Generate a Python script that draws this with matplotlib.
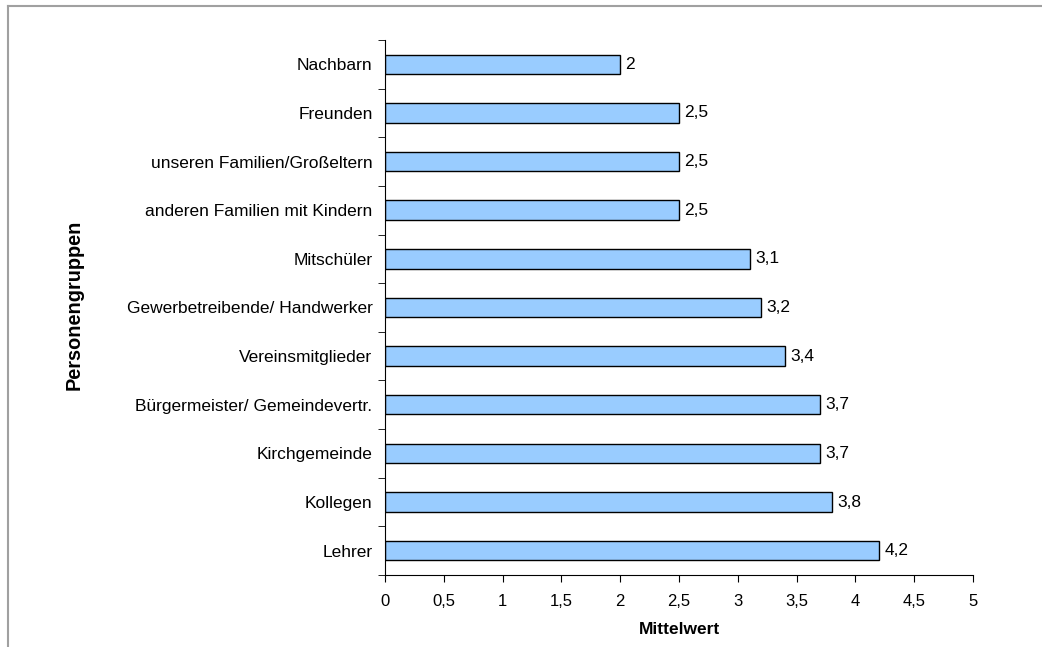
import matplotlib.pyplot as plt
from matplotlib.lines import Line2D

plt.rcParams['font.family'] = ['Liberation Sans', 'DejaVu Sans']

# --- Daten ---
gruppen = ["Nachbarn", "Freunden", "unseren Familien/Großeltern",
           "anderen Familien mit Kindern", "Mitschüler",
           "Gewerbetreibende/ Handwerker", "Vereinsmitglieder",
           "Bürgermeister/ Gemeindevertr.", "Kirchgemeinde", "Kollegen", "Lehrer"]
mittelwerte = [2.0, 2.5, 2.5, 2.5, 3.1, 3.2, 3.4, 3.7, 3.7, 3.8, 4.2]
x_ticks = [0, 0.5, 1, 1.5, 2, 2.5, 3, 3.5, 4, 4.5, 5]


def de(v):
    s = f"{v:g}"
    return s.replace(".", ",")


fig = plt.figure(figsize=(10.42, 6.47), dpi=100)
ax = fig.add_axes([0.3695, 0.1113, 0.5643, 0.8269])

pos = list(range(len(gruppen)))[::-1]
ax.barh(pos, mittelwerte, height=0.4, color='#99CCFF', edgecolor='black', linewidth=1)

for p, v in zip(pos, mittelwerte):
    ax.text(v + 0.045, p, de(v), va='center', ha='left', fontsize=12.5)

ax.set_xlim(0, 5)
ax.set_ylim(-0.5, len(gruppen) - 0.5)
ax.set_xticks(x_ticks)
ax.set_xticklabels([de(t) for t in x_ticks], fontsize=12)
ax.set_yticks(pos)
ax.set_yticklabels(gruppen, fontsize=12.5)
ax.tick_params(axis='y', length=0, pad=9)
ax.tick_params(axis='x', length=5, pad=9)
ax.set_yticks([i - 0.5 for i in range(len(gruppen) + 1)], minor=True)
ax.tick_params(axis='y', which='minor', length=5)

for s in ['top', 'right']:
    ax.spines[s].set_visible(False)

ax.set_xlabel("Mittelwert", fontsize=12.5, fontweight='bold', labelpad=9)
ax.set_ylabel("Personengruppen", fontsize=14.3, fontweight='bold')
ax.yaxis.set_label_coords(-0.512, 0.505)

# Rahmen (oben und links)
fig.add_artist(Line2D([0.0077, 1.0], [0.9907, 0.9907], color='#A0A0A0', lw=1.5))
fig.add_artist(Line2D([0.0077, 0.0077], [0.0, 0.9907], color='#A0A0A0', lw=1.5))

fig.savefig("out.png", dpi=100)
